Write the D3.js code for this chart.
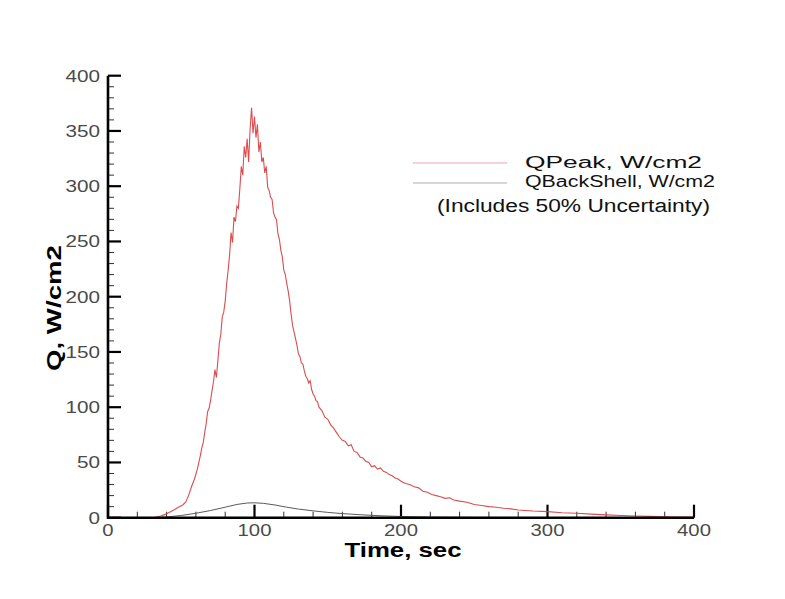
<!DOCTYPE html>
<html>
<head>
<meta charset="utf-8">
<script src="https://cdn.jsdelivr.net/npm/d3@7"></script>
<style>
  body { margin: 0; background: #fff; }
  svg { display: block; }
  text { font-family: "Liberation Sans", Arial, sans-serif; }
</style>
</head>
<body>
<script>
// QPeak, W/cm2
var peakTime = [30,33,36,39,42,45,48,51,53,55,57,59,61,63,64,65,66,67,68,69,70,71,72,73,74,75,76,77,78,79,
  80,81,82,83,84,85,86,87,88,89,90,91,92,93,94,95,96,97,98,99,100,101,102,103,104,105,106,107,108,109,
  110,111,112,113,114,115,116,117,118,119,120,121,122,123,124,125,126,127,128,129,130,131,132,133,134,135,
  136,137,138,139,140,141,142,143,144,146,148,150,152,154,156,158,160,162,164,166,168,170,172,174,176,178,
  180,182,184,186,188,190,192,194,196,198,200,203,206,209,212,215,218,221,224,227,230,233,236,240,245,250,
  255,260,265,270,275,280,285,290,300,310,320,330,340,350,360,370,380,390,400];
var peakQ = [0,0.5,1.5,3,5,7,9.5,11.5,14,20,28,35,44,56,63,68,77,85,96,99,106,115,123,134,127,142,158,166,182,186,
  196,212,224,238,258,249,272,268,282,280,298,318,310,336,326,343,322,352,371,348,363,344,356,331,340,322,326,312,318,299,
  296,290,288,276,272,270,257,252,242,236,224,220,212,205,196,184,174,168,162,156,148,146,140,139,133,128,
  126,122,124,116,112,110,106,105,100,97,91,89,84,81,77,73,70,69,65,66,60,59,55,54,51,50,
  46,47,44,45,42,41,39,38,36,35,33,31,30,28,27,24,23,21,20,19,17.5,18,16,15,14,12,
  11,10,9.5,8.5,8,7,6.5,6,5.5,4.5,4,3.2,2.6,2,1.5,1.2,0.9,0.7,0.5];

// QBackShell, W/cm2
var backTime = [25,32,40,50,60,70,80,88,95,100,106,114,122,130,140,150,160,172,185,200,220,250,300];
var backQ = [0,0.2,0.7,2,4,6.5,9.5,12,13.3,13.5,13,11.5,9.5,7.8,6.2,4.8,3.7,2.7,1.8,1.1,0.6,0.3,0.1];

var xTicks = [0, 100, 200, 300, 400];
var yTicks = [0, 50, 100, 150, 200, 250, 300, 350, 400];
var legendNames = ["QPeak, W/cm2", "QBackShell, W/cm2"];
var note = "(Includes 50% Uncertainty)";

var W = 785, H = 599;
var svg = d3.select("body").append("svg").attr("width", W).attr("height", H);

var x = d3.scaleLinear().domain([0, 400]).range([108, 694]);
var y = d3.scaleLinear().domain([0, 400]).range([517.7, 75.7]);

// minor ticks first
var xMinor = d3.range(0, 401, 20).filter(function (d) { return d % 100 !== 0; });
var yMinor = d3.range(0, 401, 10).filter(function (d) { return d % 50 !== 0; });

svg.append("g").selectAll("line").data(xMinor).enter().append("line")
  .attr("x1", function (d) { return x(d); }).attr("x2", function (d) { return x(d); })
  .attr("y1", y(0)).attr("y2", y(0) - 6)
  .attr("stroke", "#333").attr("stroke-width", 1);
svg.append("g").selectAll("line").data(yMinor).enter().append("line")
  .attr("y1", function (d) { return y(d); }).attr("y2", function (d) { return y(d); })
  .attr("x1", x(0)).attr("x2", x(0) + 6)
  .attr("stroke", "#333").attr("stroke-width", 1);

// major ticks
svg.append("g").selectAll("line").data(xTicks).enter().append("line")
  .attr("x1", function (d) { return x(d); }).attr("x2", function (d) { return x(d); })
  .attr("y1", y(0)).attr("y2", y(0) - 13)
  .attr("stroke", "#000").attr("stroke-width", 2.2);
svg.append("g").selectAll("line").data(yTicks).enter().append("line")
  .attr("y1", function (d) { return y(d); }).attr("y2", function (d) { return y(d); })
  .attr("x1", x(0)).attr("x2", x(0) + 13)
  .attr("stroke", "#000").attr("stroke-width", 2.2);

// tick labels
svg.append("g").selectAll("text").data(yTicks).enter().append("text")
  .attr("x", x(0) - 8).attr("y", function (d) { return y(d) + 6; })
  .attr("text-anchor", "end").attr("font-size", 16.5).attr("fill", "#4a4a4a")
  .attr("textLength", function (d) { return String(d).length * 11.5; })
  .attr("lengthAdjust", "spacingAndGlyphs")
  .text(function (d) { return d; });
svg.append("g").selectAll("text").data(xTicks).enter().append("text")
  .attr("x", function (d) { return x(d); }).attr("y", 536)
  .attr("text-anchor", "middle").attr("font-size", 16.5).attr("fill", "#4a4a4a")
  .attr("textLength", function (d) { return String(d).length * 11.3; })
  .attr("lengthAdjust", "spacingAndGlyphs")
  .text(function (d) { return d; });

// curves
var line = d3.line().x(function (d) { return x(d[0]); }).y(function (d) { return y(d[1]); });
svg.append("path").datum(d3.zip(backTime, backQ)).attr("d", line)
  .attr("fill", "none").attr("stroke", "#5a5a5a").attr("stroke-width", 1);
svg.append("path").datum(d3.zip(peakTime, peakQ)).attr("d", line)
  .attr("fill", "none").attr("stroke", "#d8383c").attr("stroke-width", 1.1).attr("stroke-opacity", 0.9);

// axes lines
svg.append("line").attr("x1", x(0)).attr("x2", x(0)).attr("y1", y(400)).attr("y2", y(0) + 1)
  .attr("stroke", "#000").attr("stroke-width", 2.6);
svg.append("line").attr("x1", x(0) - 1).attr("x2", x(400)).attr("y1", y(0)).attr("y2", y(0))
  .attr("stroke", "#000").attr("stroke-width", 2.6);

// axis titles
svg.append("text").attr("x", 403).attr("y", 557).attr("text-anchor", "middle")
  .attr("font-size", 21).attr("font-weight", "bold")
  .attr("textLength", 117).attr("lengthAdjust", "spacingAndGlyphs")
  .text("Time, sec");
svg.append("text").attr("transform", "translate(61,308) rotate(-90)").attr("text-anchor", "middle")
  .attr("font-size", 21).attr("font-weight", "bold")
  .attr("textLength", 126).attr("lengthAdjust", "spacingAndGlyphs")
  .text("Q, W/cm2");

// legend
var legendColors = ["#f0c2ca", "#c9c9c9"];
var lg = svg.append("g").selectAll("g").data(legendNames).enter().append("g");
lg.append("line").attr("x1", 413).attr("x2", 507)
  .attr("y1", function (d, i) { return 163 + i * 20; }).attr("y2", function (d, i) { return 163 + i * 20; })
  .attr("stroke", function (d, i) { return legendColors[i]; }).attr("stroke-width", 1.3);
lg.append("text").attr("x", 525).attr("y", function (d, i) { return 168 + i * 19; })
  .attr("font-size", 16).attr("fill", "#111")
  .attr("textLength", function (d, i) { return i === 0 ? 177 : 190; })
  .attr("lengthAdjust", "spacingAndGlyphs")
  .text(function (d) { return d; });
svg.append("text").attr("x", 437).attr("y", 212).attr("font-size", 18).attr("fill", "#111")
  .attr("textLength", 273).attr("lengthAdjust", "spacingAndGlyphs")
  .text(note);
</script>
</body>
</html>
